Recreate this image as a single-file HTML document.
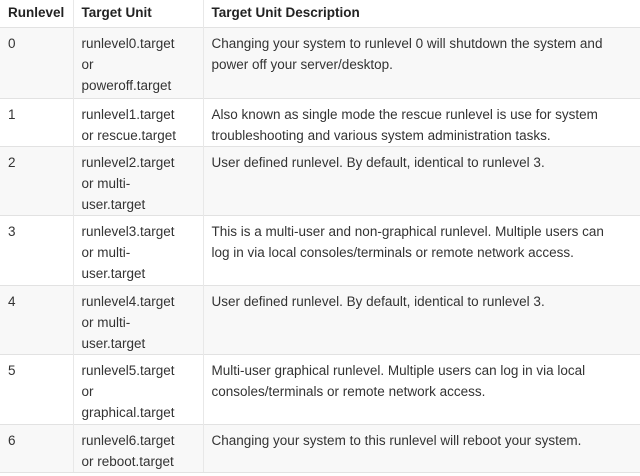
<!DOCTYPE html>
<html><head><meta charset="utf-8"><style>
body{margin:0;background:#fff;width:640px;height:476px;overflow:hidden;font-family:"Liberation Sans",sans-serif;font-size:13.5px;color:#333;}
table{border-collapse:collapse;width:640px;table-layout:fixed;}
td,th{text-align:left;vertical-align:top;padding:5px 7px 0 8px;line-height:21px;border-top:1px solid #e2e2e2;border-left:1px solid #e8e8e8;white-space:nowrap;}
td:first-child,th:first-child{border-left:none}
th{font-weight:bold;color:#222;border-top:none;height:25px;padding-top:2px;}
tr.g td{background:#f8f8f8}
</style></head><body>
<table>
<colgroup><col style="width:73px"><col style="width:130px"><col></colgroup>
<tr><th>Runlevel</th><th>Target Unit</th><th>Target Unit Description</th></tr>
<tr class="g" style="height:71px"><td>0</td><td>runlevel0.target<br>or<br>poweroff.target</td><td>Changing your system to runlevel 0 will shutdown the system and<br>power off your server/desktop.</td></tr>
<tr style="height:48px"><td>1</td><td>runlevel1.target<br>or rescue.target</td><td>Also known as single mode the rescue runlevel is use for system<br>troubleshooting and various system administration tasks.</td></tr>
<tr class="g" style="height:69px"><td>2</td><td>runlevel2.target<br>or multi-<br>user.target</td><td>User defined runlevel. By default, identical to runlevel 3.</td></tr>
<tr style="height:70px"><td>3</td><td>runlevel3.target<br>or multi-<br>user.target</td><td>This is a multi-user and non-graphical runlevel. Multiple users can<br>log in via local consoles/terminals or remote network access.</td></tr>
<tr class="g" style="height:69px"><td>4</td><td>runlevel4.target<br>or multi-<br>user.target</td><td>User defined runlevel. By default, identical to runlevel 3.</td></tr>
<tr style="height:70px"><td>5</td><td>runlevel5.target<br>or<br>graphical.target</td><td>Multi-user graphical runlevel. Multiple users can log in via local<br>consoles/terminals or remote network access.</td></tr>
<tr class="g" style="height:48px"><td style="border-bottom:1px solid #e2e2e2">6</td><td style="border-bottom:1px solid #e2e2e2">runlevel6.target<br>or reboot.target</td><td style="border-bottom:1px solid #e2e2e2">Changing your system to this runlevel will reboot your system.</td></tr>
</table>
</body></html>
